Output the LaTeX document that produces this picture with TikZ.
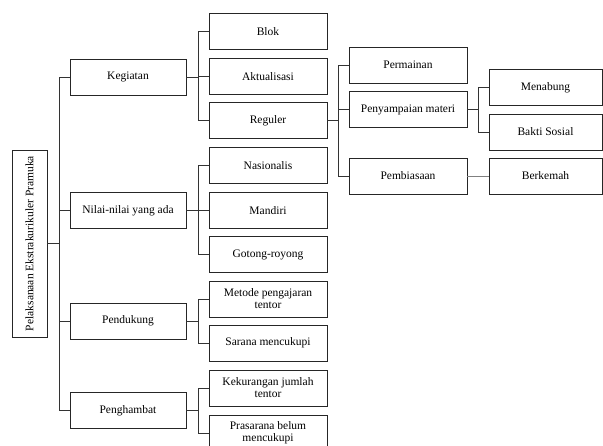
\documentclass[tikz,border=0pt]{standalone}
\usepackage{fontspec}
\setmainfont{Liberation Serif}
\begin{document}
\begin{tikzpicture}[x=1pt,y=-1pt,
  box/.style={draw=black!85,line width=0.8pt,inner sep=0pt,align=center,
    minimum height=36pt,font=\fontsize{11.5}{12}\selectfont},
  lone/.style={box,minimum width=116pt},
  ltwo/.style={box,minimum width=118pt},
  lfour/.style={box,minimum width=113pt},
  conn/.style={draw=black!80,line width=0.8pt},
  gconn/.style={draw=black!50,line width=0.8pt}]
\useasboundingbox (0,0) rectangle (603,445);
\clip (0,0) rectangle (603,445);
% root
\node[box,minimum width=35pt,minimum height=187pt] (root) at (29.5,243.5) {};
\node[rotate=90,font=\fontsize{11.5}{12}\selectfont] (roottext) at (root.center) {Pelaksanaan Ekstrakurikuler Pramuka};
% level 1
\node[lone] (keg) at (128,77) {Kegiatan};
\node[lone] (nil) at (128,210.5) {Nilai-nilai yang ada};
\node[lone] (pend) at (128,321) {Pendukung};
\node[lone] (peng) at (128,410.5) {Penghambat};
% level 2
\node[ltwo] (blok) at (268,31.5) {Blok};
\node[ltwo] (akt) at (268,76.5) {Aktualisasi};
\node[ltwo] (reg) at (268,120.5) {Reguler};
\node[ltwo] (nas) at (268,165.5) {Nasionalis};
\node[ltwo] (man) at (268,210.5) {Mandiri};
\node[ltwo] (got) at (268,254.5) {Gotong-royong};
\node[ltwo] (met) at (268,299) {Metode pengajaran\\tentor};
\node[ltwo] (sar) at (268,343) {Sarana mencukupi};
\node[ltwo] (kek) at (268,388) {Kekurangan jumlah\\tentor};
\node[ltwo] (pras) at (268,433) {Prasarana belum\\mencukupi};
% level 3
\node[ltwo] (perm) at (408,65) {Permainan};
\node[ltwo] (peny) at (408,109.5) {Penyampaian materi};
\node[ltwo] (pemb) at (408,176) {Pembiasaan};
% level 4
\node[lfour] (men) at (545.5,87.5) {Menabung};
\node[lfour] (bak) at (545.5,132) {Bakti Sosial};
\node[lfour] (ber) at (545.5,176) {Berkemah};
% connectors
\foreach \c in {keg,nil,pend,peng}
  \draw[conn] (root.east) -- ++(12,0) |- (\c.west);
\foreach \c in {blok,akt,reg}
  \draw[conn] (keg.east) -- ++(12,0) |- (\c.west);
\foreach \c in {nas,man,got}
  \draw[conn] (nil.east) -- ++(12,0) |- (\c.west);
\foreach \c in {met,sar}
  \draw[conn] (pend.east) -- ++(12,0) |- (\c.west);
\foreach \c in {kek,pras}
  \draw[conn] (peng.east) -- ++(12,0) |- (\c.west);
\foreach \c in {perm,peny,pemb}
  \draw[conn] (reg.east) -- ++(11,0) |- (\c.west);
\foreach \c in {men,bak}
  \draw[conn] (peny.east) -- ++(11,0) |- (\c.west);
\draw[gconn] (pemb.east) -- (ber.west);
\end{tikzpicture}
\end{document}
